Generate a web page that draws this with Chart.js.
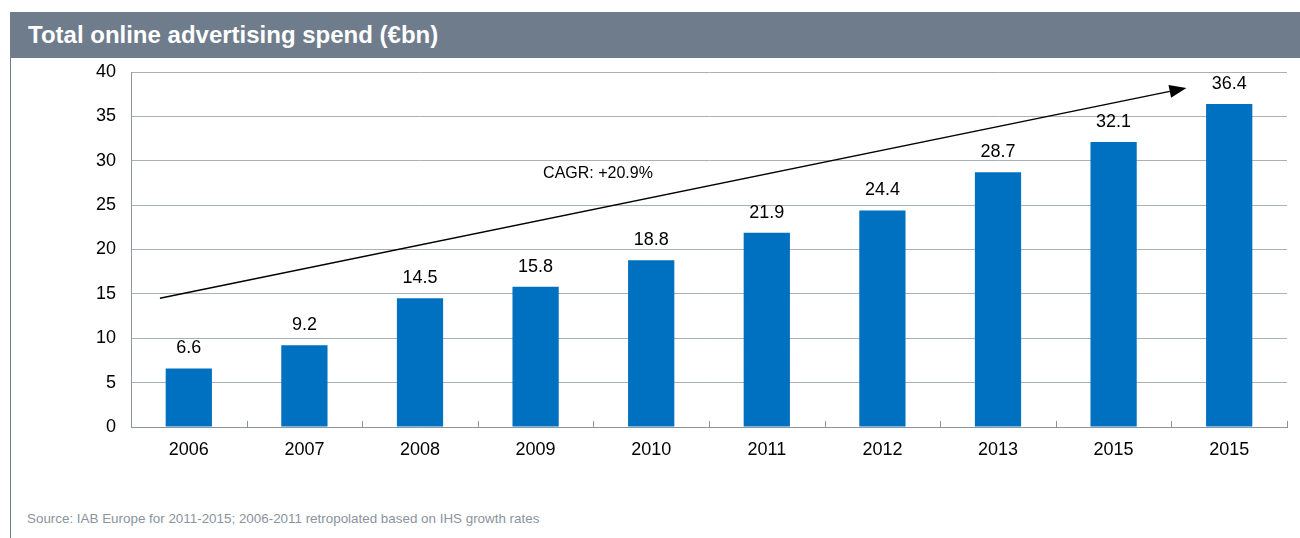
<!DOCTYPE html>
<html>
<head>
<meta charset="utf-8">
<script src="https://cdn.jsdelivr.net/npm/chart.js@4"></script>
<style>
  body { margin: 0; width: 1300px; height: 538px; position: relative; background: #fff; overflow: hidden; font-family: Arial, "Liberation Sans", sans-serif; }
  #title { position: absolute; left: 10px; top: 12px; width: 1290px; height: 46px; background: #6f7c8c; color: #fff; font-weight: bold; font-size: 24px; line-height: 46px; padding-left: 18px; box-sizing: border-box; }
  #leftLine { position: absolute; left: 10px; top: 58px; width: 1px; height: 480px; background: #6f7c8c; }
  #wrap { position: absolute; left: 0; top: 58px; width: 1300px; height: 420px; }
  #source { position: absolute; left: 27px; top: 511px; font-size: 13.4px; color: #8a939e; }
</style>
</head>
<body>
<div id="title">Total online advertising spend (€bn)</div>
<div id="leftLine"></div>
<div id="wrap"><canvas id="chart"></canvas></div>
<div id="source">Source: IAB Europe for 2011-2015; 2006-2011 retropolated based on IHS growth rates</div>

<script>
// ================= DATA =================
const years = ["2006", "2007", "2008", "2009", "2010", "2011", "2012", "2013", "2015", "2015"];
const spend = [6.6, 9.2, 14.5, 15.8, 18.8, 21.9, 24.4, 28.7, 32.1, 36.4];
const yTicks = [0, 5, 10, 15, 20, 25, 30, 35, 40];

// trend arrow (category index, value) and its label
const arrowX = [-0.25, 8.63];
const arrowY = [14.5, 38.2];
const cagrText = "CAGR: +20.9%";
const cagrPos = [3.54, 28.6];

// ================= PLUGINS =================
const extras = {
  id: "extras",
  afterDatasetsDraw(chart) {
    const ctx = chart.ctx;
    const xs = chart.scales.x, ys = chart.scales.y;
    const area = chart.chartArea;

    // little tick marks between categories, pointing up
    ctx.save();
    ctx.strokeStyle = "#8b95a2";
    ctx.lineWidth = 1;
    for (let i = 0; i <= years.length; i++) {
      const x = Math.round(xs.getPixelForValue(i - 0.5)) + 0.5;
      ctx.beginPath();
      ctx.moveTo(x, area.bottom - 6);
      ctx.lineTo(x, area.bottom);
      ctx.stroke();
    }

    // value labels
    ctx.fillStyle = "#000";
    ctx.font = "18px Arial, 'Liberation Sans'";
    ctx.textAlign = "center";
    ctx.textBaseline = "alphabetic";
    chart.getDatasetMeta(0).data.forEach((bar, i) => {
      ctx.fillText(spend[i].toFixed(1), bar.x, bar.y - 15);
    });

    // arrow
    const x1 = xs.getPixelForValue(arrowX[0]), y1 = ys.getPixelForValue(arrowY[0]);
    const x2 = xs.getPixelForValue(arrowX[1]), y2 = ys.getPixelForValue(arrowY[1]);
    const ang = Math.atan2(y2 - y1, x2 - x1);
    const head = 17, half = 6.5;
    const bx = x2 - head * Math.cos(ang), by = y2 - head * Math.sin(ang);
    ctx.strokeStyle = "#000";
    ctx.lineWidth = 1.5;
    ctx.beginPath();
    ctx.moveTo(x1, y1);
    ctx.lineTo(bx, by);
    ctx.stroke();
    ctx.beginPath();
    ctx.moveTo(x2, y2);
    ctx.lineTo(bx + half * Math.sin(ang), by - half * Math.cos(ang));
    ctx.lineTo(bx - half * Math.sin(ang), by + half * Math.cos(ang));
    ctx.closePath();
    ctx.fill();

    // CAGR text
    ctx.font = "16px Arial, 'Liberation Sans'";
    ctx.textBaseline = "middle";
    ctx.fillText(cagrText, xs.getPixelForValue(cagrPos[0]), ys.getPixelForValue(cagrPos[1]));
    ctx.restore();
  }
};

// ================= CHART =================
new Chart(document.getElementById("chart"), {
  type: "bar",
  data: {
    labels: years,
    datasets: [{
      data: spend,
      backgroundColor: "#0070c0",
      barPercentage: 0.4,
      categoryPercentage: 1.0
    }]
  },
  options: {
    responsive: true,
    maintainAspectRatio: false,
    animation: false,
    layout: { padding: { left: 0, right: 13, top: 14, bottom: 0 } },
    plugins: { legend: { display: false }, tooltip: { enabled: false } },
    scales: {
      x: {
        grid: { display: false },
        border: { color: "#8b95a2" },
        ticks: { color: "#000", font: { family: "Arial", size: 18 }, padding: 4, maxRotation: 0 },
        afterFit(s) { s.height = 51; s.paddingLeft = 0; s.paddingRight = 0; }
      },
      y: {
        min: 0,
        max: 40,
        afterBuildTicks(s) { s.ticks = yTicks.map(v => ({ value: v })); },
        grid: { color: "#a9b0ba", drawTicks: false },
        border: { color: "#8b95a2" },
        ticks: { color: "#000", font: { family: "Arial", size: 18 }, padding: 15 },
        afterFit(s) { s.width = 131; s.paddingTop = 0; s.paddingBottom = 0; }
      }
    }
  },
  plugins: [extras]
});
</script>
</body>
</html>
